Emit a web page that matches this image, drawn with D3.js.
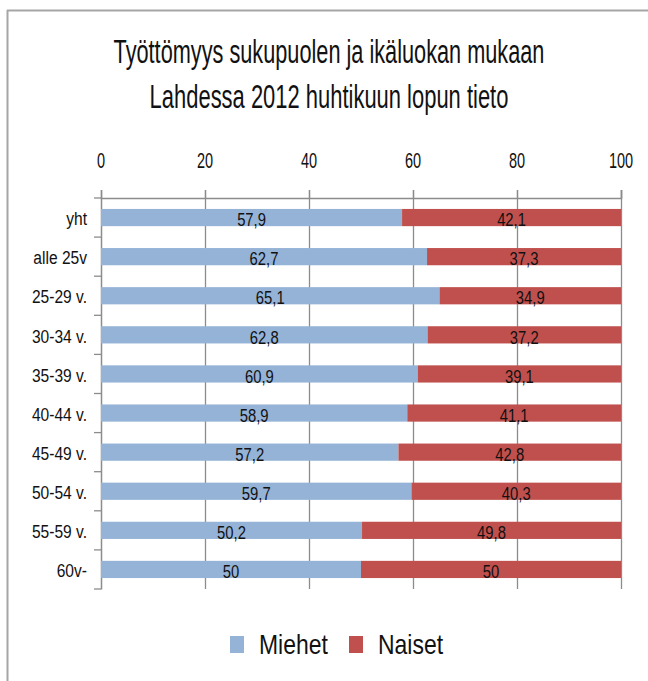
<!DOCTYPE html>
<html>
<head>
<meta charset="utf-8">
<script src="https://cdn.jsdelivr.net/npm/d3@7"></script>
<style>
  html, body { margin: 0; padding: 0; background: #fff; }
  svg { display: block; }
  text { font-family: "Liberation Sans", Arial, sans-serif; fill: #111; }
</style>
</head>
<body>
<svg id="chart" width="648" height="681"></svg>
<script>
const titleLines = ["Työttömyys sukupuolen ja ikäluokan mukaan", "Lahdessa 2012 huhtikuun lopun tieto"];
const categories = ["yht", "alle 25v", "25-29 v.", "30-34 v.", "35-39 v.", "40-44 v.", "45-49 v.", "50-54 v.", "55-59 v.", "60v-"];
const miehet = [57.9, 62.7, 65.1, 62.8, 60.9, 58.9, 57.2, 59.7, 50.2, 50];
const naiset = [42.1, 37.3, 34.9, 37.2, 39.1, 41.1, 42.8, 40.3, 49.8, 50];
const seriesNames = ["Miehet", "Naiset"];
const seriesColors = ["#95b3d7", "#c0504d"];
const xTicks = [0, 20, 40, 60, 80, 100];

const svg = d3.select("#chart");
const fmt = v => String(v).replace(".", ",");
const NARROW = 0.82;

// frame
svg.append("line").attr("x1", 7.5).attr("x2", 7.5).attr("y1", 10).attr("y2", 681)
  .attr("stroke", "#a6a6a6").attr("stroke-width", 2);
svg.append("line").attr("x1", 7).attr("x2", 648).attr("y1", 10.5).attr("y2", 10.5)
  .attr("stroke", "#a6a6a6").attr("stroke-width", 2);

// title: condensed to the reference's width
const titleY = [63, 108], titleW = [431, 359];
titleLines.forEach((t, i) => {
  const el = svg.append("text").attr("text-anchor", "middle").attr("font-size", 33).text(t);
  const w = el.node().getComputedTextLength();
  const s = titleW[i] / w;
  el.attr("transform", `translate(329,${titleY[i]}) scale(${s},1)`);
});

const x = d3.scaleLinear().domain([0, 100]).range([101, 621]);
const y = d3.scaleBand().domain(categories).range([198, 589]).paddingInner(0.56).paddingOuter(0.28);
const yb = d3.scaleBand().domain(categories).range([198, 589]);

// gridlines
svg.append("g").selectAll("line").data(xTicks.slice(1)).join("line")
  .attr("x1", d => Math.round(x(d)) + 0.5).attr("x2", d => Math.round(x(d)) + 0.5)
  .attr("y1", 190).attr("y2", 589)
  .attr("stroke", "#8c8c8c").attr("stroke-width", 1.3);

// top axis
const topAxis = svg.append("g").attr("transform", "translate(0,198)")
  .call(d3.axisTop(x).tickValues(xTicks).tickSize(8).tickPadding(0).tickFormat(""));
topAxis.select(".domain").attr("stroke", "#8c8c8c").attr("stroke-width", 1.5);
topAxis.selectAll(".tick line").attr("stroke", "#8c8c8c").attr("stroke-width", 1.3);
svg.append("g").selectAll("text").data(xTicks).join("text")
  .attr("transform", d => `translate(${x(d)},168) scale(0.66,1)`)
  .attr("text-anchor", "middle").attr("font-size", 22).text(d => d);

// left axis
const leftAxis = svg.append("g").attr("transform", "translate(101,0)")
  .call(d3.axisLeft(yb).tickValues([]).tickSize(0));
leftAxis.select(".domain").attr("stroke", "#8c8c8c").attr("stroke-width", 1.5);
const boundaries = categories.map(c => yb(c)).concat([yb(categories[categories.length - 1]) + yb.bandwidth()]);
svg.append("g").selectAll("line").data(boundaries).join("line")
  .attr("x1", 94).attr("x2", 101).attr("y1", d => d).attr("y2", d => d)
  .attr("stroke", "#8c8c8c").attr("stroke-width", 1.3);
svg.append("g").selectAll("text").data(categories).join("text")
  .attr("transform", d => `translate(87,${yb(d) + yb.bandwidth() / 2 + 1}) scale(${NARROW},1)`)
  .attr("dy", "0.35em").attr("text-anchor", "end").attr("font-size", 19).text(d => d);

// bars
const rows = categories.map((c, i) => ({ c, m: miehet[i], n: naiset[i] }));
const g = svg.append("g");
g.selectAll("rect.m").data(rows).join("rect").attr("class", "m")
  .attr("x", x(0)).attr("y", d => y(d.c)).attr("width", d => x(d.m) - x(0)).attr("height", y.bandwidth())
  .attr("fill", seriesColors[0]);
g.selectAll("rect.n").data(rows).join("rect").attr("class", "n")
  .attr("x", d => x(d.m)).attr("y", d => y(d.c)).attr("width", d => x(d.m + d.n) - x(d.m)).attr("height", y.bandwidth())
  .attr("fill", seriesColors[1]);
g.selectAll("text.m").data(rows).join("text").attr("class", "m")
  .attr("transform", d => `translate(${x(d.m / 2)},${y(d.c) + y.bandwidth() / 2 + 2}) scale(0.78,1)`)
  .attr("dy", "0.35em").attr("text-anchor", "middle").attr("font-size", 19).text(d => fmt(d.m));
g.selectAll("text.n").data(rows).join("text").attr("class", "n")
  .attr("transform", d => `translate(${x(d.m + d.n / 2)},${y(d.c) + y.bandwidth() / 2 + 2}) scale(0.78,1)`)
  .attr("dy", "0.35em").attr("text-anchor", "middle").attr("font-size", 19).text(d => fmt(d.n));

// legend
const legX = [230, 349];
const leg = svg.append("g");
seriesNames.forEach((s, i) => {
  leg.append("rect").attr("x", legX[i]).attr("y", 636).attr("width", 14).attr("height", 17).attr("fill", seriesColors[i]);
  leg.append("text").attr("transform", `translate(${legX[i] + 29},654) scale(${NARROW},1)`)
    .attr("font-size", 28).text(s);
});
</script>
</body>
</html>
